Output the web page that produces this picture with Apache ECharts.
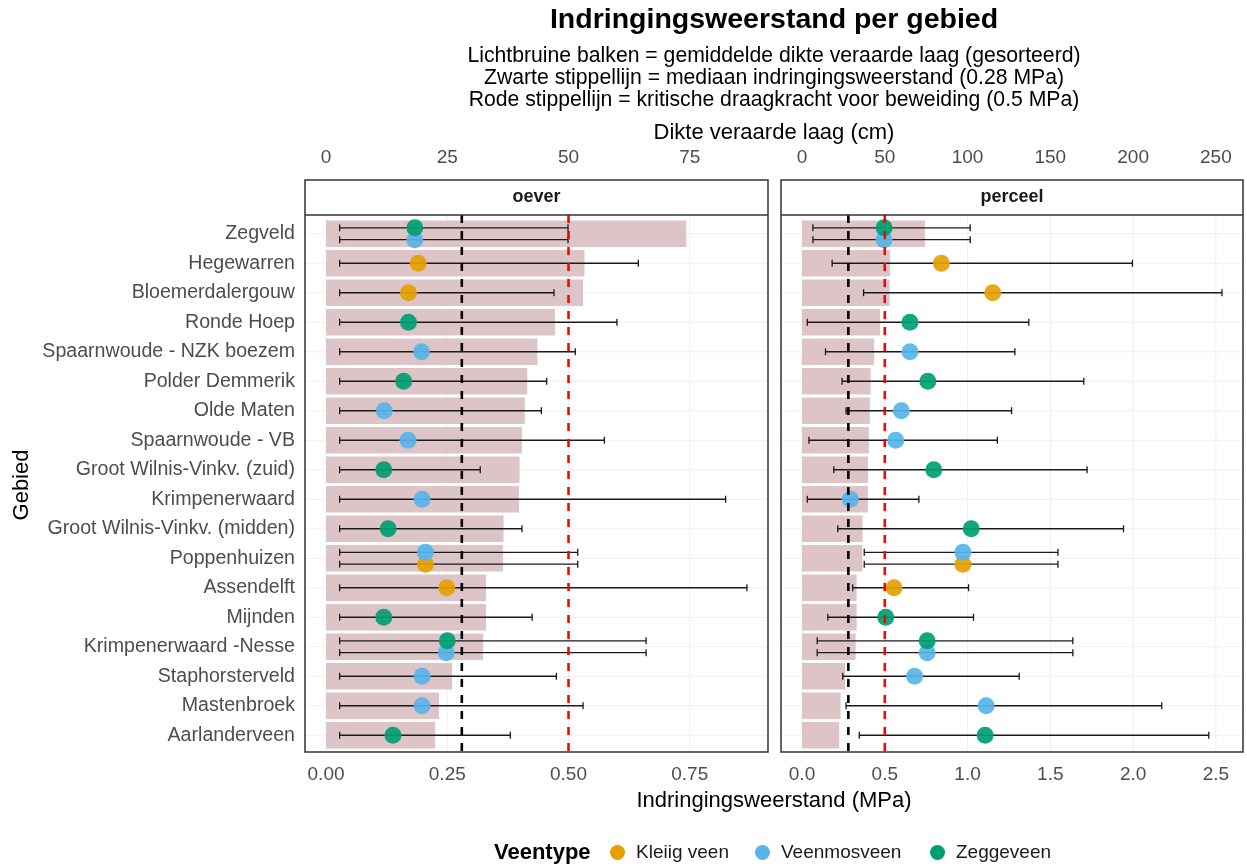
<!DOCTYPE html>
<html><head><meta charset="utf-8">
<script src="https://cdn.jsdelivr.net/npm/echarts@6/dist/echarts.min.js"></script>
<style>html,body{margin:0;padding:0;background:#fff}#c{width:1247px;height:867px}</style>
</head><body><div id="c"></div>
<script>
// ---------- DATA ----------
const gebieden = ['Zegveld','Hegewarren','Bloemerdalergouw','Ronde Hoep','Spaarnwoude - NZK boezem','Polder Demmerik','Olde Maten','Spaarnwoude - VB','Groot Wilnis-Vinkv. (zuid)','Krimpenerwaard','Groot Wilnis-Vinkv. (midden)','Poppenhuizen','Assendelft','Mijnden','Krimpenerwaard -Nesse','Staphorsterveld','Mastenbroek','Aarlanderveen'];
const dikteCm = [74.3, 53.3, 53.0, 47.2, 43.6, 41.5, 41.0, 40.4, 39.9, 39.8, 36.6, 36.5, 33.0, 33.0, 32.4, 26.0, 23.3, 22.5];
const veentypes = ['Kleiig veen','Veenmosveen','Zeggeveen'];
const kleuren = ['#E69F00','#56B4E9','#009E73'];
const medianMPa = 0.28;
const kritiekMPa = 0.5;
const panels = ['oever','perceel'];
// [gebied, veentype, gemiddelde (MPa), ondergrens, bovengrens]
const oeverRows = [
  ['Zegveld','Veenmosveen',0.183,0.028,0.499],
  ['Zegveld','Zeggeveen',0.183,0.028,0.499],
  ['Hegewarren','Kleiig veen',0.190,0.028,0.644],
  ['Bloemerdalergouw','Kleiig veen',0.170,0.028,0.470],
  ['Ronde Hoep','Zeggeveen',0.170,0.028,0.600],
  ['Spaarnwoude - NZK boezem','Veenmosveen',0.197,0.028,0.514],
  ['Polder Demmerik','Zeggeveen',0.160,0.028,0.455],
  ['Olde Maten','Veenmosveen',0.120,0.028,0.444],
  ['Spaarnwoude - VB','Veenmosveen',0.169,0.028,0.574],
  ['Groot Wilnis-Vinkv. (zuid)','Zeggeveen',0.119,0.028,0.318],
  ['Krimpenerwaard','Veenmosveen',0.198,0.028,0.824],
  ['Groot Wilnis-Vinkv. (midden)','Zeggeveen',0.128,0.028,0.404],
  ['Poppenhuizen','Kleiig veen',0.205,0.028,0.519],
  ['Poppenhuizen','Veenmosveen',0.205,0.028,0.519],
  ['Assendelft','Kleiig veen',0.249,0.028,0.868],
  ['Mijnden','Zeggeveen',0.119,0.028,0.425],
  ['Krimpenerwaard -Nesse','Veenmosveen',0.248,0.028,0.660],
  ['Krimpenerwaard -Nesse','Zeggeveen',0.250,0.028,0.660],
  ['Staphorsterveld','Veenmosveen',0.198,0.028,0.475],
  ['Mastenbroek','Veenmosveen',0.198,0.028,0.530],
  ['Aarlanderveen','Zeggeveen',0.138,0.028,0.380]
];
const perceelRows = [
  ['Zegveld','Veenmosveen',0.496,0.066,1.016],
  ['Zegveld','Zeggeveen',0.496,0.066,1.016],
  ['Hegewarren','Kleiig veen',0.842,0.182,1.996],
  ['Bloemerdalergouw','Kleiig veen',1.152,0.372,2.537],
  ['Ronde Hoep','Zeggeveen',0.652,0.032,1.370],
  ['Spaarnwoude - NZK boezem','Veenmosveen',0.652,0.142,1.286],
  ['Polder Demmerik','Zeggeveen',0.760,0.242,1.702],
  ['Olde Maten','Veenmosveen',0.600,0.266,1.266],
  ['Spaarnwoude - VB','Veenmosveen',0.566,0.042,1.180],
  ['Groot Wilnis-Vinkv. (zuid)','Zeggeveen',0.796,0.192,1.722],
  ['Krimpenerwaard','Veenmosveen',0.292,0.032,0.706],
  ['Groot Wilnis-Vinkv. (midden)','Zeggeveen',1.022,0.216,1.942],
  ['Poppenhuizen','Kleiig veen',0.972,0.376,1.546],
  ['Poppenhuizen','Veenmosveen',0.972,0.376,1.546],
  ['Assendelft','Kleiig veen',0.556,0.306,1.006],
  ['Mijnden','Zeggeveen',0.506,0.156,1.036],
  ['Krimpenerwaard -Nesse','Veenmosveen',0.756,0.092,1.636],
  ['Krimpenerwaard -Nesse','Zeggeveen',0.756,0.092,1.636],
  ['Staphorsterveld','Veenmosveen',0.680,0.246,1.312],
  ['Mastenbroek','Veenmosveen',1.112,0.266,2.173],
  ['Aarlanderveen','Zeggeveen',1.106,0.346,2.457]
];
const mpaTicks = [[0,0.25,0.5,0.75],[0,0.5,1,1.5,2,2.5]];
const cmTicks = [[0,25,50,75],[0,50,100,150,200,250]];
const mpaDecimals = [2,1];

// ---------- LAYOUT / STYLE ----------
const FONT = "'Liberation Sans', Arial, sans-serif";
const panelX = [305, 781], panelW = [463, 462];
const stripTop = 180, stripBottom = 215, panelBottom = 752;
const gridTop = 219, gridH = 531;
const dodge = 0.2;
const legendLeft = [610, 755, 930];
const allRows = [oeverRows, perceelRows];

function range(rows) {
  let mx = 0;
  rows.forEach(r => { mx = Math.max(mx, r[4]); });
  dikteCm.forEach(d => { mx = Math.max(mx, d / 100); });
  const e = mx * 0.05;
  return [-e, mx + e];
}

function withOffsets(rows) {
  return rows.map(r => {
    const same = rows.filter(q => q[0] === r[0]).map(q => veentypes.indexOf(q[1])).sort((a,b)=>a-b);
    const n = same.length, k = same.indexOf(veentypes.indexOf(r[1]));
    const off = ((n - 1) / 2 - k) * 2 * dodge;
    return { gebied: gebieden.indexOf(r[0]), type: r[1], mean: r[2], lo: r[3], hi: r[4], off: off };
  });
}

const grids = [], xAxes = [], yAxes = [], series = [], graphics = [];
panels.forEach((p, i) => {
  const rg = range(allRows[i]);
  grids.push({ left: panelX[i], width: panelW[i], top: gridTop, height: gridH });
  xAxes.push({
    gridIndex: i, type: 'value', min: rg[0], max: rg[1], position: 'bottom',
    axisLine: {show:false}, axisTick: {show:false}, splitLine: {show:false},
    axisLabel: { customValues: mpaTicks[i], formatter: v => v.toFixed(mpaDecimals[i]), color: '#4d4d4d', fontSize: 19, fontFamily: FONT, margin: 15 }
  });
  yAxes.push({
    gridIndex: i, type: 'category', data: gebieden, inverse: true,
    axisLine: {show:false}, axisTick: {show:false}, splitLine: {show:false},
    axisLabel: { show: i === 0, color: '#4d4d4d', fontSize: 19.6, fontFamily: FONT, margin: 10 }
  });
  const rows = withOffsets(allRows[i]);
  // grid lines
  series.push({
    type: 'custom', xAxisIndex: i, yAxisIndex: i, silent: true, z: 0,
    data: gebieden.map((g, k) => [k]), encode: {y: 0},
    renderItem: (params, api) => {
      const cs = params.coordSys;
      const y = api.coord([0, api.value(0)])[1];
      return { type: 'line', shape: {x1: cs.x, y1: y, x2: cs.x + cs.width, y2: y}, style: {stroke: '#f0f0f0', lineWidth: 1} };
    }
  });
  series.push({
    type: 'custom', xAxisIndex: i, yAxisIndex: i, silent: true, z: 0,
    data: mpaTicks[i].map(v => [v]), encode: {x: 0},
    renderItem: (params, api) => {
      const x = api.coord([api.value(0), 0])[0];
      return { type: 'line', shape: {x1: x, y1: stripBottom, x2: x, y2: panelBottom}, style: {stroke: '#f0f0f0', lineWidth: 1} };
    }
  });
  // bars (thickness in cm on secondary axis)
  series.push({
    type: 'bar', name: 'dikte', xAxisIndex: i + 2, yAxisIndex: i, silent: true, z: 1,
    data: dikteCm, barCategoryGap: '10%', itemStyle: { color: '#dcc4c7' }
  });
  // error bars
  series.push({
    type: 'custom', xAxisIndex: i, yAxisIndex: i, silent: true, z: 3,
    data: rows.map(r => [r.lo, r.hi, r.gebied, r.off]), encode: {x: [0, 1], y: 2},
    renderItem: (params, api) => {
      const a = api.coord([api.value(0), api.value(2)]);
      const b = api.coord([api.value(1), api.value(2)]);
      const band = api.size([0, 1])[1];
      const y = a[1] + api.value(3) * band;
      const st = {stroke: '#1a1a1a', lineWidth: 1.3};
      return { type: 'group', children: [
        {type: 'line', shape: {x1: a[0], y1: y, x2: b[0], y2: y}, style: st},
        {type: 'line', shape: {x1: a[0], y1: y - 3.5, x2: a[0], y2: y + 3.5}, style: st},
        {type: 'line', shape: {x1: b[0], y1: y - 3.5, x2: b[0], y2: y + 3.5}, style: st}
      ]};
    }
  });
  // points per veentype
  veentypes.forEach((vt, t) => {
    series.push({
      type: 'custom', name: vt, xAxisIndex: i, yAxisIndex: i, silent: true, z: 4,
      itemStyle: { color: kleuren[t] },
      data: rows.filter(r => r.type === vt).map(r => [r.mean, r.gebied, r.off]), encode: {x: 0, y: 1},
      renderItem: (params, api) => {
        const c = api.coord([api.value(0), api.value(1)]);
        const band = api.size([0, 1])[1];
        return { type: 'circle', shape: {cx: c[0], cy: c[1] + api.value(2) * band, r: 8.5}, style: {fill: kleuren[t], opacity: 0.92} };
      }
    });
  });
  // reference lines
  series.push({
    type: 'custom', xAxisIndex: i, yAxisIndex: i, silent: true, z: 6,
    data: [[medianMPa, 0], [kritiekMPa, 1]], encode: {x: 0},
    renderItem: (params, api) => {
      const x = api.coord([api.value(0), 0])[0];
      return { type: 'line', shape: {x1: x, y1: stripBottom, x2: x, y2: panelBottom},
        style: {stroke: api.value(1) === 0 ? '#000000' : '#ff0000', lineWidth: 2.6, lineDash: [8, 8]} };
    }
  });
  // panel frame + strip
  graphics.push({ type: 'rect', z: 100, shape: {x: panelX[i], y: stripTop, width: panelW[i], height: panelBottom - stripTop}, style: {fill: 'none', stroke: '#333', lineWidth: 1.5} });
  graphics.push({ type: 'line', z: 100, shape: {x1: panelX[i], y1: stripBottom, x2: panelX[i] + panelW[i], y2: stripBottom}, style: {stroke: '#333', lineWidth: 1.5} });
  graphics.push({ type: 'text', z: 100, x: panelX[i] + panelW[i] / 2, y: (stripTop + stripBottom) / 2,
    style: {text: p, font: 'bold 18px ' + FONT, fill: '#1a1a1a', textAlign: 'center', textVerticalAlign: 'middle'} });
});
panels.forEach((p, i) => {
  const rg = range(allRows[i]);
  xAxes.push({
    gridIndex: i, type: 'value', min: rg[0] * 100, max: rg[1] * 100, position: 'top',
    axisLine: {show:false}, axisTick: {show:false}, splitLine: {show:false},
    axisLabel: { customValues: cmTicks[i], formatter: v => String(v), color: '#4d4d4d', fontSize: 19, fontFamily: FONT, margin: 52 }
  });
});

const cx = (panelX[0] + panelX[1] + panelW[1]) / 2;
const txt = (text, x, y, font, extra) => Object.assign({ type: 'text', x: x, y: y, z: 100,
  style: {text: text, font: font, fill: '#000', textAlign: 'center', textVerticalAlign: 'middle'} }, extra || {});
graphics.push(txt('Indringingsweerstand per gebied', cx, 20, 'bold 28.5px ' + FONT));
graphics.push(txt('Lichtbruine balken = gemiddelde dikte veraarde laag (gesorteerd)', cx, 56, '21.2px ' + FONT));
graphics.push(txt('Zwarte stippellijn = mediaan indringingsweerstand (0.28 MPa)', cx, 78, '21.2px ' + FONT));
graphics.push(txt('Rode stippellijn = kritische draagkracht voor beweiding (0.5 MPa)', cx, 100, '21.2px ' + FONT));
graphics.push(txt('Dikte veraarde laag (cm)', cx, 133, '22px ' + FONT));
graphics.push(txt('Indringingsweerstand (MPa)', cx, 801, '22px ' + FONT));
graphics.push(txt('Gebied', 22, 485, '22px ' + FONT, {rotation: Math.PI / 2}));
const vt = txt('Veentype', 494, 853, 'bold 22px ' + FONT);
vt.style.textAlign = 'left';
graphics.push(vt);

const legends = veentypes.map((v, t) => ({
  data: [{name: v, icon: 'circle'}],
  left: legendLeft[t], top: 843, itemWidth: 15, itemHeight: 15, padding: 0,
  textStyle: {fontSize: 19, color: '#1a1a1a', fontFamily: FONT, padding: [0, 0, 0, 6]}, selectedMode: false
}));

const chart = echarts.init(document.getElementById('c'), null, {renderer: 'canvas'});
chart.setOption({
  backgroundColor: '#ffffff',
  animation: false,
  textStyle: { fontFamily: FONT },
  grid: grids, xAxis: xAxes, yAxis: yAxes, series: series,
  legend: legends,
  graphic: graphics
});
</script></body></html>
